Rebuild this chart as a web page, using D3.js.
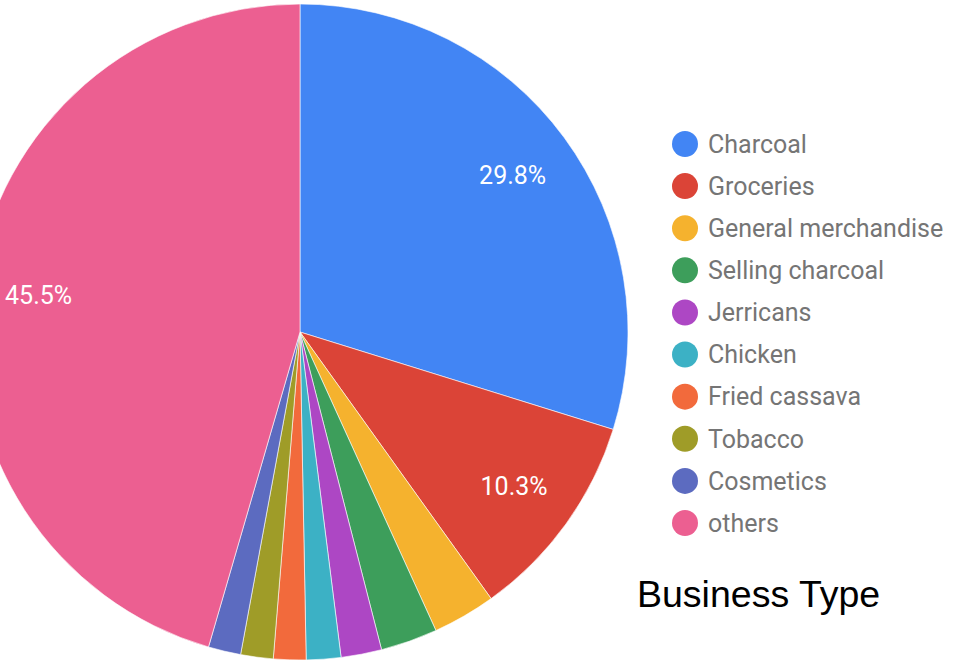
<!DOCTYPE html>
<html>
<head>
<meta charset="utf-8">
<script src="https://cdn.jsdelivr.net/npm/d3@7"></script>
<style>
  body { margin: 0; background: #fff; }
  svg { display: block; }
</style>
</head>
<body>
<div class="canvas"></div>
<script>
// categories and their share (%)
const categories = ['Charcoal', 'Groceries', 'General merchandise', 'Selling charcoal',
  'Jerricans', 'Chicken', 'Fried cassava', 'Tobacco', 'Cosmetics', 'others'];
const shares = [29.8, 10.3, 3.1, 2.8, 2.0, 1.7, 1.6, 1.6, 1.6, 45.5];
const colors = ['#4285f4', '#db4437', '#f5b22e', '#3d9e5b', '#ad47c4',
  '#3cb1c5', '#f26a3c', '#9f9c28', '#5c6bc0', '#ec5f91'];
const title = 'Business Type';

const width = 960;
const height = 662;
const cx = 300, cy = 332, radius = 328;

const svg = d3.select('.canvas')
  .append('svg')
  .attr('width', width)
  .attr('height', height);

const data = categories.map((name, i) => ({name, value: shares[i]}));

const color = d3.scaleOrdinal().domain(categories).range(colors);

const pie = d3.pie().sort(null).value(d => d.value);
const arcs = pie(data);

const arc = d3.arc().innerRadius(0).outerRadius(radius);
const labelArc = d3.arc().innerRadius(radius * 0.805).outerRadius(radius * 0.805);

const g = svg.append('g')
  .attr('transform', `translate(${cx}, ${cy})`);

g.selectAll('path.slice')
  .data(arcs)
  .enter().append('path')
  .attr('class', 'slice')
  .attr('d', arc)
  .attr('fill', d => color(d.data.name))
  .attr('stroke', '#fff')
  .attr('stroke-width', 0.6);

// only the big slices get a percent label
g.selectAll('text.pct')
  .data(arcs.filter(d => d.data.value > 5))
  .enter().append('text')
  .attr('class', 'pct')
  .attr('transform', d => `translate(${labelArc.centroid(d)})`)
  .attr('text-anchor', 'middle')
  .attr('dy', '0.35em')
  .attr('fill', '#fff')
  .style('font-family', 'Roboto, sans-serif')
  .style('font-size', '25px')
  .text(d => d.data.value.toFixed(1) + '%');

// legend
const legendY = d3.scalePoint()
  .domain(categories)
  .range([144, 523]);

const legend = svg.append('g');
const item = legend.selectAll('g.item')
  .data(categories)
  .enter().append('g')
  .attr('class', 'item')
  .attr('transform', d => `translate(685, ${legendY(d)})`);

item.append('circle')
  .attr('r', 13)
  .attr('fill', d => color(d));

item.append('text')
  .attr('x', 23)
  .attr('dy', '0.35em')
  .attr('fill', '#757575')
  .style('font-family', 'Roboto, sans-serif')
  .style('font-size', '25px')
  .text(d => d);

svg.append('text')
  .attr('x', 637)
  .attr('y', 607)
  .attr('fill', '#000')
  .style('font-family', 'Liberation Sans, Arial, sans-serif')
  .style('font-size', '37.5px')
  .text(title);
</script>
</body>
</html>
